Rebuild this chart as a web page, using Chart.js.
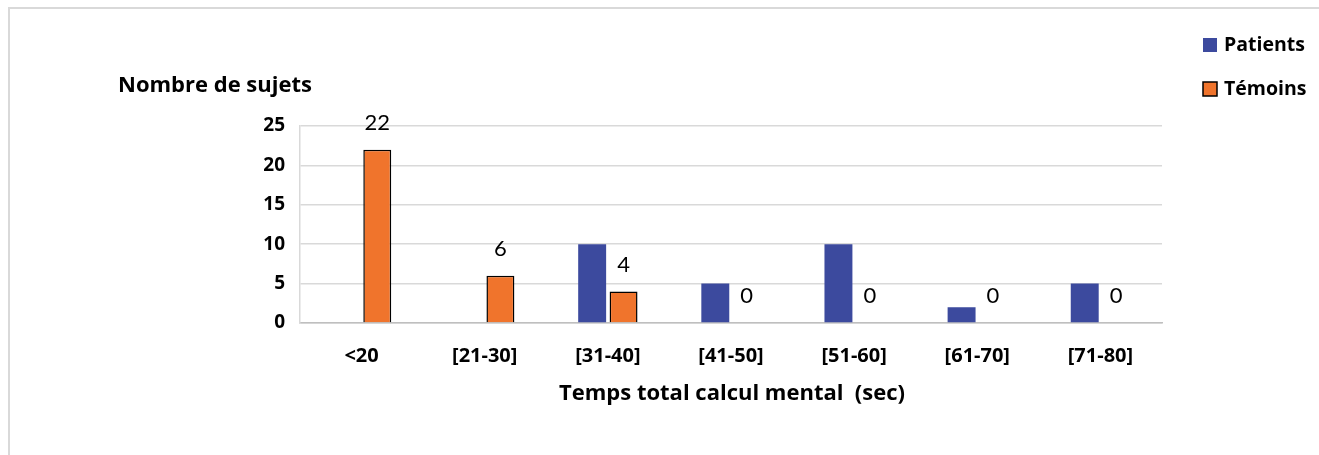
<!DOCTYPE html>
<html>
<head>
<meta charset="utf-8">
<script src="https://cdn.jsdelivr.net/npm/chart.js@4"></script>
<style>
body{margin:0;background:#fff;}
#wrap{position:relative;width:1319px;height:455px;overflow:hidden;}
#frame{position:absolute;left:8px;top:7px;width:1400px;height:500px;border:2px solid #d9d9d9;}
canvas{position:absolute;left:0;top:0;}
</style>
</head>
<body>
<div id="wrap">
<div id="frame"></div>
<canvas id="chart" width="1319" height="455"></canvas>
</div>
<script>
const categories = ["<20","[21-30]","[31-40]","[41-50]","[51-60]","[61-70]","[71-80]"];
const patients = [0,0,10,5,10,2,5];
const temoins = [22,6,4,0,0,0,0];
const yTicks = [0,5,10,15,20,25];

const FONT = "Lato, 'Open Sans', sans-serif";
const BOLD = "'Open Sans', sans-serif";

const extras = {
id:"extras",
afterDatasetsDraw(chart){
const c = chart.ctx;
const area = chart.chartArea;
c.save();
c.fillStyle="#000";
c.textAlign="center";
c.textBaseline="middle";
c.font="22px "+FONT;
const meta = chart.getDatasetMeta(1);
meta.data.forEach((bar,i)=>{
c.fillText(String(temoins[i]), bar.x, bar.y-27);
});
c.font="bold 22px "+BOLD;
c.textAlign="left";
c.fillText("Nombre de sujets",118,86);
c.textAlign="center";
c.font="bold 22px "+BOLD;
c.fillText("Temps total calcul mental  (sec)",(area.left+area.right)/2+1,394);
// legend
c.font="bold 19.5px "+BOLD;
c.textAlign="left";
chart.data.datasets.forEach((ds,i)=>{
const y = 45+i*44;
c.fillStyle=ds.backgroundColor;
c.fillRect(1203,y-7,14,14);
if(ds.borderWidth){
c.strokeStyle="#000";
c.lineWidth=1.5;
c.strokeRect(1203,y-7,14,14);
}
c.fillStyle="#000";
c.fillText(ds.label,1224,y);
});
c.restore();
}
};

new Chart(document.getElementById("chart"),{
type:"bar",
data:{
labels:categories,
datasets:[{
label:"Patients",
data:patients,
backgroundColor:"#3c4a9e",
borderWidth:0,
categoryPercentage:0.51,
barPercentage:0.89
},{
label:"Témoins",
data:temoins,
backgroundColor:"#f0742c",
borderColor:"#000",
borderWidth:1.5,
categoryPercentage:0.51,
barPercentage:0.89
}]
},
options:{
responsive:false,
animation:false,
layout:{padding:{top:126,right:157,left:0,bottom:0}},
plugins:{legend:{display:false},tooltip:{enabled:false}},
scales:{
x:{
grid:{display:false},
border:{color:"#bfbfbf",width:1.5},
ticks:{color:"#000",font:{family:BOLD,size:20,weight:"bold"},padding:13,maxRotation:0},
afterFit(s){s.height=132;}
},
y:{
min:0,max:25,
afterBuildTicks(s){s.ticks=yTicks.map(v=>({value:v}));},
grid:{color:"#d9d9d9",lineWidth:1.5,drawTicks:false},
border:{color:"#d9d9d9",width:1.5},
ticks:{color:"#000",font:{family:BOLD,size:19,weight:"bold"},padding:15},
afterFit(s){s.width=300;}
}
}
},
plugins:[extras]
});
</script>
</body>
</html>
